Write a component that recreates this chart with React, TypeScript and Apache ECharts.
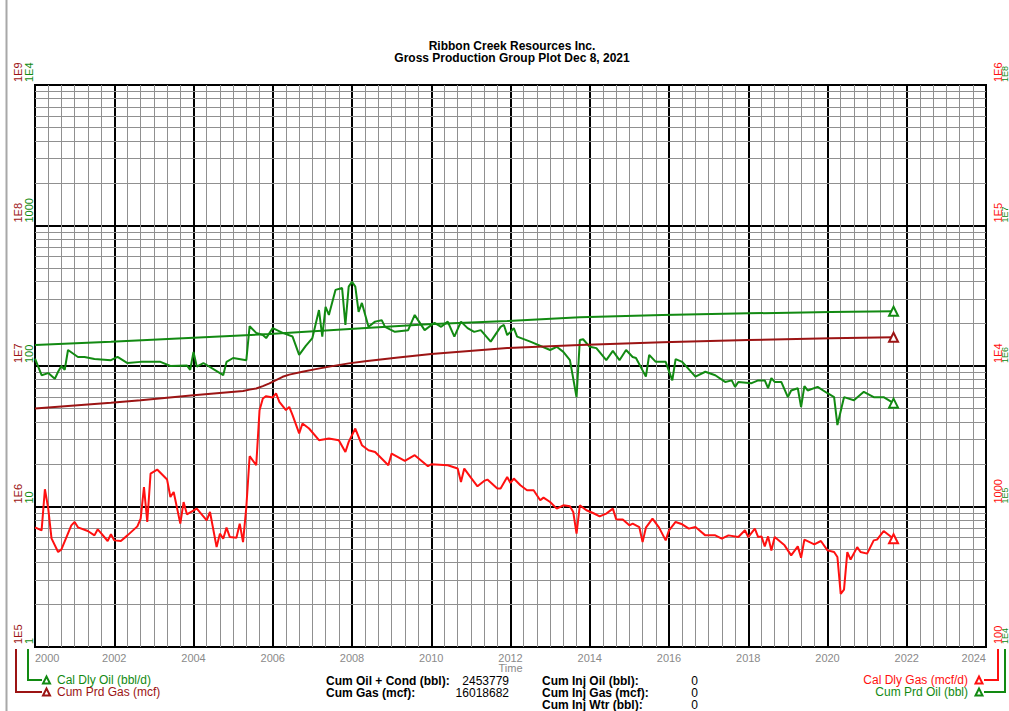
import React, { useEffect, useRef } from "react";
import * as echarts from "echarts";

// ---------- DATA ----------
const oilRateDates = ["2000-01","2000-03","2000-05","2000-07","2000-08","2000-09","2000-10","2000-11","2001-02","2001-04","2001-07","2001-12","2002-02","2002-05","2002-09","2003-03","2003-06","2003-11","2003-12","2004-01","2004-02","2004-04","2004-10","2004-11","2005-01","2005-05","2005-06","2005-08","2005-10","2005-11","2006-01","2006-04","2006-07","2006-09","2006-11","2007-01","2007-03","2007-04","2007-05","2007-06","2007-08","2007-10","2007-11","2007-12","2008-01","2008-02","2008-03","2008-04","2008-06","2008-08","2008-10","2008-11","2009-02","2009-06","2009-08","2009-09","2009-11","2010-02","2010-04","2010-06","2010-08","2010-10","2010-12","2011-02","2011-04","2011-07","2011-10","2011-11","2011-12","2012-01","2012-02","2012-03","2012-07","2013-01","2013-03","2013-05","2013-07","2013-09","2013-10","2013-11","2014-01","2014-03","2014-06","2014-08","2014-10","2014-12","2015-02","2015-03","2015-06","2015-07","2015-09","2015-12","2016-02","2016-03","2016-05","2016-09","2016-12","2017-03","2017-06","2017-08","2017-09","2017-10","2018-02","2018-04","2018-06","2018-07","2018-08","2018-09","2018-11","2019-01","2019-02","2019-04","2019-05","2019-06","2019-07","2019-10","2020-01","2020-03","2020-04","2020-06","2020-09","2020-12","2021-03","2021-06","2021-09"];
const oilRate = [113,86,89,81,91,100,94,130,116,116,112,110,116,105,107,107,100,101,94,126,99,105,86,107,114,110,192,172,166,158,186,172,162,120,139,158,250,162,264,231,348,359,196,367,398,367,243,281,190,207,212,190,175,180,231,212,180,203,190,207,162,207,186,175,180,149,190,196,166,175,186,162,149,130,137,126,110,60,153,155,137,134,110,128,110,130,116,114,84,120,107,107,79,112,107,84,91,86,77,79,71,77,75.5,79,79,69.5,82,77,77,60,67,69.5,51,72,67,71,64,60,38,60,57,65.5,60,60,54.4];

const gasRateDates = ["2000-01","2000-03","2000-04","2000-05","2000-06","2000-08","2000-09","2000-12","2001-01","2001-02","2001-05","2001-07","2001-08","2001-09","2001-11","2001-12","2002-01","2002-03","2002-05","2002-08","2002-09","2002-10","2002-11","2002-12","2003-02","2003-05","2003-06","2003-07","2003-09","2003-10","2003-11","2004-02","2004-05","2004-06","2004-08","2004-09","2004-10","2004-11","2004-12","2005-02","2005-03","2005-04","2005-05","2005-06","2005-08","2005-09","2005-10","2005-11","2006-01","2006-02","2006-03","2006-05","2006-06","2006-07","2006-09","2006-10","2006-12","2007-03","2007-06","2007-09","2007-11","2007-12","2008-02","2008-04","2008-06","2008-08","2008-12","2009-01","2009-05","2009-08","2009-12","2010-01","2010-06","2010-09","2010-10","2010-11","2011-01","2011-03","2011-05","2011-06","2011-09","2011-10","2011-12","2012-01","2012-02","2012-04","2012-06","2012-08","2012-10","2012-11","2013-01","2013-03","2013-05","2013-07","2013-08","2013-09","2013-10","2013-12","2014-02","2014-04","2014-06","2014-08","2014-09","2014-11","2015-01","2015-02","2015-04","2015-05","2015-06","2015-08","2015-10","2015-12","2016-01","2016-03","2016-05","2016-07","2016-09","2016-10","2016-12","2017-03","2017-05","2017-07","2017-10","2017-12","2018-01","2018-03","2018-04","2018-05","2018-06","2018-07","2018-08","2018-09","2018-12","2019-02","2019-04","2019-05","2019-06","2019-09","2019-11","2020-01","2020-03","2020-04","2020-05","2020-06","2020-07","2020-08","2020-10","2020-11","2021-01","2021-03","2021-04","2021-06","2021-09"];
const gasRate = [711,677,1326,971,593,474,495,734,776,711,669,623,688,647,568,634,574,568,623,722,820,1377,776,1716,1832,1555,1169,1269,755,1076,880,966,797,914,514,641,590,707,606,600,755,558,992,2280,1966,4850,5875,6100,5970,6380,5560,4850,5120,4467,3310,3900,3590,2965,3048,2965,2445,2883,3590,2730,2515,2445,1966,2383,2110,2317,1934,1999,1966,1863,1495,1863,1607,1393,1520,1555,1342,1342,1623,1470,1581,1416,1304,1304,1107,1157,1076,966,1020,1003,914,641,1020,940,899,851,890,966,811,808,734,755,714,558,707,820,707,574,677,776,747,696,714,684,623,623,590,623,606,677,606,696,606,613,520,613,487,606,529,449,520,432,581,538,568,487,474,437,239,256,474,419,514,474,462,574,581,669,590];

const cumGasDates = ["2000-01","2001-12","2002-09","2004-01","2005-04","2005-06","2005-08","2005-10","2005-12","2006-02","2006-04","2006-06","2006-10","2007-02","2007-07","2007-12","2008-05","2009-03","2010-01","2011-12","2013-10","2015-11","2018-01","2020-02","2021-09"];
const cumGas = [4.99e6,5.47e6,5.71e6,6.2e6,6.65e6,6.79e6,6.92e6,7.19e6,7.52e6,7.94e6,8.38e6,8.68e6,9.1e6,9.5e6,9.98e6,1.044e7,1.083e7,1.148e7,1.216e7,1.342e7,1.41e7,1.473e7,1.53e7,1.573e7,16018682];

const cumOilDates = ["2000-01","2001-12","2004-01","2005-12","2008-04","2009-12","2011-12","2013-10","2015-11","2018-01","2020-02","2021-09"];
const cumOil = [1.41e6,1.487e6,1.589e6,1.688e6,1.853e6,1.98e6,2.089e6,2.22e6,2.306e6,2.37e6,2.422e6,2453779];

const yearMin = 2000;
const yearMax = 2024;

const titleLines = ["Ribbon Creek Resources Inc.", "Gross Production Group Plot Dec 8, 2021"];
const statsLeft = [["Cum Oil + Cond (bbl):", "2453779"], ["Cum Gas (mcf):", "16018682"]];
const statsRight = [["Cum Inj Oil (bbl):", "0"], ["Cum Inj Gas (mcf):", "0"], ["Cum Inj Wtr (bbl):", "0"]];

// ---------- STYLE ----------
const FONT = "'Liberation Sans', Arial, Helvetica, sans-serif";
const GREEN = "#128a12";
const DARKRED = "#9c1414";
const RED = "#ff1010";
const GRAYTXT = "#8a8a8a";
const GRID_MINOR = "#909090";

const toYear = (s: string) => {
  const [y, m] = s.split("-").map(Number);
  return y + (m - 1) / 12;
};

function build(dates: string[], vals: number[]) {
  return dates.map((d, i) => {
    const item: any = { value: [toYear(d), vals[i]] };
    if (i === dates.length - 1) {
      item.symbol = "emptyTriangle";
      item.symbolSize = 9;
    }
    return item;
  });
}

const fmtPlain = (v: number) => {
  const e = Math.round(Math.log10(v));
  return e >= 4 ? "1E" + e : String(Math.pow(10, e));
};
const fmtE = (v: number) => "1E" + Math.round(Math.log10(v));

const minorLog = (lo: number, decades: number) => {
  const out: number[] = [];
  for (let d = 0; d < decades; d++) {
    for (let k = 2; k <= 9; k++) out.push(k * lo * Math.pow(10, d));
  }
  return out;
};

function yLabel(color: string, size: number, side: "left" | "right", margin: number, fmt: (v: number) => string) {
  return {
    show: true,
    color,
    fontSize: size,
    fontFamily: FONT,
    rotate: 90,
    align: "left",
    verticalAlign: side === "left" ? "bottom" : "top",
    margin,
    padding: [0, 0, 0, 3],
    showMinLabel: true,
    showMaxLabel: true,
    formatter: fmt,
  };
}

function txt(text: string, x: number, y: number, opts: any = {}) {
  return {
    type: "text",
    x,
    y,
    silent: true,
    style: {
      text,
      fill: opts.fill || "#000",
      fontSize: opts.size || 12,
      fontWeight: opts.bold ? "bold" : "normal",
      fontFamily: FONT,
      lineHeight: opts.lineHeight,
      align: opts.align || "left",
      textAlign: opts.align || "left",
      verticalAlign: "middle",
      textVerticalAlign: "middle",
    },
  };
}

function tri(cx: number, cy: number, color: string) {
  return {
    type: "polygon",
    silent: true,
    shape: { points: [[cx - 3.5, cy + 3.5], [cx + 3.5, cy + 3.5], [cx, cy - 3.5]] },
    style: { fill: "#fff", stroke: color, lineWidth: 2 },
  };
}

function poly(points: number[][], color: string) {
  return {
    type: "polyline",
    silent: true,
    shape: { points },
    style: { stroke: color, lineWidth: 2, fill: null },
  };
}

export default function App() {
  const ref = useRef<HTMLDivElement>(null);

  useEffect(() => {
    if (!ref.current) return;
    const chart = echarts.init(ref.current, undefined, { renderer: "svg" });

    const graphics: any[] = [
      { type: "line", silent: true, shape: { x1: 6.5, y1: 0, x2: 6.5, y2: 711 }, style: { stroke: "#a8a8a8", lineWidth: 2 } },
      txt(titleLines[0], 512, 45.5, { bold: true, align: "center" }),
      txt(titleLines[1], 512, 57.5, { bold: true, align: "center" }),
      // legend left
      poly([[28, 649], [28, 680], [42, 680]], GREEN),
      poly([[16, 649], [16, 692], [42, 692]], DARKRED),
      tri(46.5, 680, GREEN),
      tri(46.5, 692, DARKRED),
      txt("Cal Dly Oil (bbl/d)", 57, 680, { fill: GREEN }),
      txt("Cum Prd Gas (mcf)", 57, 692, { fill: DARKRED }),
      // legend right
      poly([[998, 649], [998, 680], [984, 680]], RED),
      poly([[1005, 649], [1005, 692], [984, 692]], GREEN),
      tri(979, 680, RED),
      tri(979, 692, GREEN),
      txt("Cal Dly Gas (mcf/d)", 968, 680, { fill: RED, align: "right" }),
      txt("Cum Prd Oil (bbl)", 968, 692, { fill: GREEN, align: "right" }),
    ];
    statsLeft.forEach((r, i) => {
      graphics.push(txt(r[0], 326, 681 + i * 12, { bold: true }));
      graphics.push(txt(r[1], 509, 681 + i * 12, { align: "right" }));
    });
    statsRight.forEach((r, i) => {
      graphics.push(txt(r[0], 542, 681 + i * 12, { bold: true }));
      graphics.push(txt(r[1], 698, 681 + i * 12, { align: "right" }));
    });

    const option: any = {
      animation: false,
      backgroundColor: "#fff",
      textStyle: { fontFamily: FONT },
      grid: { left: 35, top: 85, width: 955, height: 562, show: true, borderColor: "#000", borderWidth: 2, backgroundColor: "transparent" },
      xAxis: {
        type: "value",
        min: yearMin,
        max: yearMax,
        interval: 2,
        name: "Time",
        nameLocation: "middle",
        nameGap: 15,
        nameMoveOverlap: false,
        nameTextStyle: { color: GRAYTXT, fontSize: 11, fontFamily: FONT },
        axisLine: { show: false },
        axisTick: { show: false },
        axisLabel: {
          color: GRAYTXT,
          fontSize: 11,
          fontFamily: FONT,
          margin: 5,
          alignMinLabel: "left",
          alignMaxLabel: "right",
          showMinLabel: true,
          showMaxLabel: true,
          formatter: (v: number) => String(Math.round(v)),
        },
        splitLine: { show: true, lineStyle: { color: "#000", width: 2 } },
        minorTick: { show: false, splitNumber: 6 },
        minorSplitLine: { show: true, lineStyle: { color: GRID_MINOR, width: 1 } },
      },
      yAxis: [
        {
          type: "log", logBase: 10, min: 1, max: 1e4, position: "left",
          axisLine: { show: false }, axisTick: { show: false },
          splitLine: { show: true, lineStyle: { color: "#000", width: 2 } },
          axisLabel: yLabel(GREEN, 11, "left", 1, fmtPlain),
        },
        {
          type: "log", logBase: 10, min: 1e5, max: 1e9, position: "left",
          axisLine: { show: false }, axisTick: { show: false }, splitLine: { show: false },
          axisLabel: yLabel(DARKRED, 11, "left", 12, fmtE),
        },
        {
          type: "log", logBase: 10, min: 100, max: 1e6, position: "right",
          axisLine: { show: false }, axisTick: { show: false }, splitLine: { show: false },
          axisLabel: yLabel(RED, 11, "right", 6, fmtPlain),
        },
        {
          type: "log", logBase: 10, min: 1e4, max: 1e8, position: "right",
          axisLine: { show: false }, axisTick: { show: false }, splitLine: { show: false },
          axisLabel: yLabel(GREEN, 9, "right", 14, fmtE),
        },
      ],
      series: [
        {
          name: "Cal Dly Oil (bbl/d)",
          type: "line",
          yAxisIndex: 0,
          data: build(oilRateDates, oilRate),
          symbol: "none",
          showSymbol: true,
          color: GREEN,
          lineStyle: { color: GREEN, width: 2 },
          itemStyle: { color: GREEN, borderWidth: 2 },
          z: 3,
          markLine: {
            silent: true,
            z: 1,
            symbol: ["none", "none"],
            label: { show: false },
            lineStyle: { color: GRID_MINOR, width: 1, type: "solid" },
            emphasis: { disabled: true },
            data: minorLog(1, 4).map((v) => ({ yAxis: v })),
          },
        },
        {
          name: "Cum Prd Gas (mcf)",
          type: "line",
          yAxisIndex: 1,
          data: build(cumGasDates, cumGas),
          symbol: "none",
          showSymbol: true,
          color: DARKRED,
          lineStyle: { color: DARKRED, width: 2 },
          itemStyle: { color: DARKRED, borderWidth: 2 },
          z: 3,
        },
        {
          name: "Cal Dly Gas (mcf/d)",
          type: "line",
          yAxisIndex: 2,
          data: build(gasRateDates, gasRate),
          symbol: "none",
          showSymbol: true,
          color: RED,
          lineStyle: { color: RED, width: 2 },
          itemStyle: { color: RED, borderWidth: 2 },
          z: 3,
        },
        {
          name: "Cum Prd Oil (bbl)",
          type: "line",
          yAxisIndex: 3,
          data: build(cumOilDates, cumOil),
          symbol: "none",
          showSymbol: true,
          color: GREEN,
          lineStyle: { color: GREEN, width: 2 },
          itemStyle: { color: GREEN, borderWidth: 2 },
          z: 3,
        },
      ],
      graphic: graphics,
    };

    chart.setOption(option);
    return () => chart.dispose();
  }, []);

  return (
    <div
      ref={ref}
      style={{ position: "fixed", left: 0, top: 0, width: 1009, height: 711, background: "#fff" }}
    />
  );
}
